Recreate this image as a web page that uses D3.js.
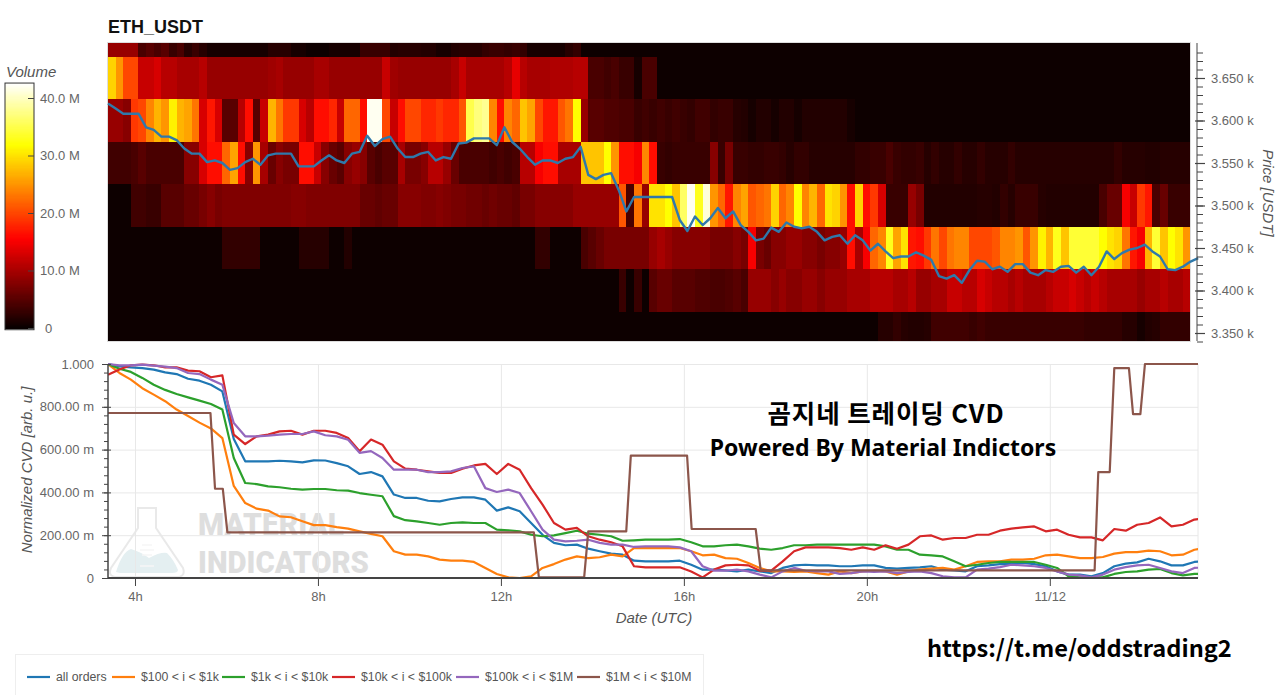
<!DOCTYPE html>
<html>

<head>
    <meta charset="utf-8">
    <title>ETH_USDT CVD</title>
    <script src="https://d3js.org/d3.v7.min.js" charset="utf-8"></script>
    <style>
        html,
        body {
            margin: 0;
            padding: 0;
            background: #fff;
        }

        svg {
            display: block;
        }

        text {
            font-family: "Liberation Sans", Arial, sans-serif;
        }

        .axis text {
            fill: #666;
            font-size: 13px;
        }

        .axis .domain,
        .axis line {
            stroke: #444;
        }

        .grid line {
            stroke: #e8e8e8;
        }

        .grid .domain {
            stroke: none;
        }

        .axis-label {
            fill: #555;
            font-size: 15px;
            font-style: italic;
        }

        .note {
            font-family: "Noto Sans CJK KR", sans-serif;
            font-weight: 700;
            fill: #000;
        }
    </style>
</head>

<body>
    <div id="chart"></div>
    <script>
        // volume per price row (millions), one value per 10 minute column
        const vol3700 = [
            9, 9, 9, 9, 4, 5, 4, 5, 3, 4,
            2, 3, 2, 1, 1, .6, .6, .6, .8, .6,
            .6, 2, 2, 2, 1, .6, .5, .5, .5, .6,
            .6, .6, 1, 3, 3, 3, 3, 1.5, 2, 2,
            2, 1.5, 1.5, 1, 1, 1.5, 2, 2, 2, 2.5,
            3, 3, 2.5, 3, 2.5, 1, 1, 1, 1, 1,
            2, 2.5, .3, .1, .1, .1, .1, .1, .1, .1,
            .1, .1, .1, .1, .1, .1, .1, .1, .1, .1,
            .1, .1, .1, .1, .1, .1, .1, .1, .1, .1,
            .1, .1, .1, .1, .1, .1, .1, .1, .1, .1,
            .1, .1, .1, .1, .1, .1, .1, .1, .1, .1,
            .1, .1, .1, .1, .1, .1, .1, .1, .1, .1,
            .1, .1, .1, .1, .1, .1, .1, .1, .1, .1,
            .1, .1, .1, .1, .1, .1, .1, .1, .1, .1,
            .1, .1
        ];
        const vol3650 = [
            29, 25, 20, 20, 12, 12, 13, 11, 11, 10,
            10, 10, 11, 9, 9, 9, 9, 9, 9, 9,
            9, 9.5, 10, 9, 9, 9, 9, 10, 10, 9,
            9, 9, 9, 9, 9, 9, 12, 9.5, 9, 9,
            9, 9, 9, 9, 9, 10, 12, 10, 10, 10,
            10, 10, 11, 14, 11, 10, 10, 10, 10.5, 10.5,
            10.5, 11, 11, 4, 4, 3.5, 4, 3, 3, .6,
            4, 4, .2, .1, .1, .1, .1, .1, .1, .1,
            .1, .1, .1, .1, .1, .1, .1, .1, .1, .1,
            .1, .1, .1, .1, .1, .1, .1, .1, .1, .1,
            .1, .1, .1, .1, .1, .1, .1, .1, .1, .1,
            .1, .1, .1, .1, .1, .1, .1, .1, .1, .1,
            .1, .1, .1, .1, .1, .1, .1, .1, .1, .1,
            .1, .1, .1, .1, .1, .1, .1, .1, .1, .1,
            .1, .1
        ];
        const vol3600 = [
            9, 9, 8, 19, 20, 24, 27, 25, 31, 27,
            26, 23, 13, 17, 13, 5, 5, 11, 16, 5,
            12, 27, 23, 19, 19, 13, 11, 16, 16, 18,
            12, 22, 22, 16, 42, 42, 20, 12, 16, 20,
            20, 18, 18, 19, 18, 18, 21, 35, 37, 38,
            24, 16, 24, 22, 28, 26, 20, 17, 17, 21,
            23, 32, 9, 5, 5, 4.5, 4.5, 4, 4, 3,
            3.5, 3, 3.5, 3, 3.5, 3, 2.5, 3.5, 3.5, 2.5,
            3, 3, 2, 1.5, 1, 1.5, 1.5, 1, 1.5, 1.5,
            1, 1.5, 1.5, 1.5, 1.5, 1.5, 1.5, 1, .5, .5,
            .5, .5, .4, .3, .1, .1, .1, .1, .1, .1,
            .1, .1, .1, .1, .1, .1, .1, .1, .1, .1,
            .1, .1, .1, .1, .1, .1, .1, .1, .1, .1,
            .1, .1, .1, .1, .1, .1, .1, .1, .1, .1,
            .1, .1
        ];
        const vol3550 = [
            3.5, 3.5, 3.5, 4, 5, 4, 4, 4, 4, 4,
            8, 8, 13, 16, 16, 22, 26, 16, 8, 25,
            10, 6, 8, 7, 7, 16.5, 16.5, 12, 8, 6,
            5, 8, 9, 8, 5, 4, 5, 5, 10, 7,
            7, 8, 11, 11, 9, 6, 4, 4, 4, 4,
            3.5, 4, 3.5, 4, 11, 11, 15, 16, 16, 10,
            10, 10, 28, 28, 28, 32, 25, 16, 16, 15,
            24, 16, 3, 2.5, 3, 3, 3, 3, 3, 8,
            3, 7, 3, 3, 2.5, 2.5, 3, 3, 2.5, 2,
            2.5, 2.5, 2, 2, 2, 2, 2, 2, 2.5, 2.5,
            3, 3, 4, 3, 2.5, 2.5, 3, 2, 2.5, 2,
            2, 2.5, 2, 2, 2.5, 2, 2, 2, 2.5, 2,
            2, 2, 2, 2, 2, 2, 2, 2, 2, 2,
            2, 2, 2.5, 2, 2, 2, 1.5, 1.5, 2, 2,
            2, 2
        ];
        const vol3500 = [
            .2, .2, .2, 3.5, 3.5, 3, 3, 5, 5, 5,
            6, 6, 7, 8, 7, 7.5, 7.5, 7.5, 7.5, 7.5,
            7.5, 7.5, 7.5, 7.5, 8, 8, 7.5, 7.5, 7.5, 7.5,
            7.5, 7.5, 7.5, 6, 6, 5.5, 6, 6, 8, 8,
            8, 7.5, 7.5, 8, 7.5, 7, 7, 6.5, 6.5, 6,
            6.5, 6, 6, 5.5, 7, 7, 8, 8, 8, 8,
            8, 9, 9, 9, 9, 9, 9, 21, 4, 23,
            9, 30, 30, 32, 28, 36, 42, 33, 41, 25,
            22, 17, 24, 26, 21, 22, 23, 29, 22, 24,
            32, 24, 27, 22, 30, 29, 25, 16, 29, 16,
            19, 13, 3, 3, 3, 9, 7, 1.5, 1.5, 1.5,
            1.5, 1.5, 1.5, 1.5, 2, 2, 1.5, 2.5, 2, 3,
            3, 3, 2, 1.5, 1.5, 1.5, 1.5, 1.5, 1.5, 1.5,
            4, 6, 6, 15, 12, 19, 17, 4, 6, 3,
            3, 3
        ];
        const vol3450 = [
            .1, .1, .1, .1, .1, .1, .1, .1, .1, .1,
            .1, .1, .1, .1, .1, 2.5, 2.5, 2.5, 2.5, 2.5,
            .1, .1, .1, .1, .1, 2, 2, 2, 2, .1,
            .1, 1.5, .1, .1, .1, .1, .1, .1, .1, .1,
            .1, .1, .1, .1, .1, .1, .1, .1, .1, .1,
            .1, .1, .1, .1, .1, .1, 2.5, 2.5, .1, .1,
            .1, .1, 4, 5, 6, 7, 7, 7, 7, 7,
            7, 9, 10, 9, 8, 8, 8, 8, 8, 7,
            7, 7, 8, 7, 15, 7, 6, 8, 8, 9,
            9, 8, 8, 7, 8, 8, 9, 16, 10, 15,
            22, 24, 33, 26, 30, 17, 16, 19, 23, 20,
            23, 24, 24, 20, 20, 20, 21, 24, 24, 25,
            21, 25, 31, 27, 33, 28, 34, 34, 34, 34,
            32, 30, 29, 23, 17, 15, 27, 34, 28, 32,
            30, 25
        ];
        const vol3400 = [
            .1, .1, .1, .1, .1, .1, .1, .1, .1, .1,
            .1, .1, .1, .1, .1, .1, .1, .1, .1, .1,
            .1, .1, .1, .1, .1, .1, .1, .1, .1, .1,
            .1, .1, .1, .1, .1, .1, .1, .1, .1, .1,
            .1, .1, .1, .1, .1, .1, .1, .1, .1, .1,
            .1, .1, .1, .1, .1, .1, .1, .1, .1, .1,
            .1, .1, .1, .1, .1, .1, .1, 3, .5, 3,
            .5, 5, 6, 6, 5, 5, 5, 4.5, 4.5, 4,
            4, 4.5, 5, 4, 9, 9, 9, 8, 9, 8,
            8, 9, 9, 8, 9, 9, 9, 10, 10, 10,
            11, 11, 11, 10, 10, 11, 9, 9, 10, 10,
            12, 12, 11, 11, 13, 12, 11, 11, 10, 11,
            10, 10, 10, 11, 12, 12, 13, 12, 11, 12,
            11, 10, 10, 10, 10, 9, 10, 10, 11, 10,
            10, 11
        ];
        const vol3350 = [
            .1, .1, .1, .1, .1, .1, .1, .1, .1, .1,
            .1, .1, .1, .1, .1, .1, .1, .1, .1, .1,
            .1, .1, .1, .1, .1, .1, .1, .1, .1, .1,
            .1, .1, .1, .1, .1, .1, .1, .1, .1, .1,
            .1, .1, .1, .1, .1, .1, .1, .1, .1, .1,
            .1, .1, .1, .1, .1, .1, .1, .1, .1, .1,
            .1, .1, .1, .1, .1, .1, .1, .1, .1, .1,
            .1, .1, .1, .1, .1, .1, .1, .1, .1, .1,
            .1, .1, .1, .1, .1, .1, .1, .1, .1, .1,
            .1, .1, .1, .1, .1, .1, .1, .1, .1, .1,
            .2, 2, 2, 2.5, 2, 1.5, 1.5, 2, 3.5, 3.5,
            3.5, 3.5, 3.5, 3, 3.5, 3, 3, 3, 3, 3,
            3, 3, 3, 3, 3, 3, 3, 3, 2.5, 2.5,
            2.5, 2.5, 2.5, 2, 2, 1, 1.5, 2, 2.5, 2.5,
            2.5, 2.5
        ];
        const volumeRows = [vol3700, vol3650, vol3600, vol3550, vol3500, vol3450, vol3400, vol3350];
        const rowPrices = [3700, 3650, 3600, 3550, 3500, 3450, 3400, 3350];

        // last price, every 10 minutes
        const price = [
            3620, 3614, 3608, 3608, 3608, 3592, 3589, 3581, 3581, 3577,
            3567, 3561, 3561, 3551, 3553, 3550, 3542, 3544, 3551, 3555,
            3548, 3559, 3561, 3561, 3561, 3546, 3546, 3546, 3553, 3559,
            3553, 3550, 3561, 3563, 3582, 3570, 3578, 3581, 3567, 3557,
            3557, 3561, 3563, 3553, 3557, 3555, 3573, 3574, 3579, 3579,
            3579, 3571, 3592, 3575, 3567, 3557, 3548, 3553, 3553, 3550,
            3555, 3557, 3569, 3536, 3531, 3536, 3538, 3518, 3493, 3510,
            3510, 3510, 3510, 3510, 3510, 3483, 3470, 3487, 3477, 3485,
            3497, 3485, 3493, 3477, 3469, 3459, 3461, 3474, 3469, 3480,
            3475, 3473, 3475, 3469, 3459, 3463, 3465, 3455, 3465, 3459,
            3447, 3455, 3446, 3438, 3440, 3440, 3445, 3441, 3436, 3417,
            3414, 3418, 3409, 3424, 3435, 3434, 3425, 3428, 3422, 3431,
            3431, 3421, 3418, 3424, 3422, 3428, 3429, 3421, 3428, 3418,
            3428, 3446, 3437, 3444, 3448, 3450, 3454, 3446, 3440, 3425,
            3424, 3428, 3434, 3438
        ];

        // normalized cvd per order size, every 15 minutes
        const cvdAll = [
            1, .989, .984, .981, .974, .961, .953, .931, .922, .903,
            .872, .65, .545, .545, .545, .548, .545, .54, .55, .549,
            .537, .522, .486, .495, .475, .39, .374, .374, .361, .358,
            .369, .377, .377, .366, .315, .33, .312, .257, .202, .164,
            .153, .156, .137, .125, .114, .109, .081, .078, .078, .078,
            .081, .062, .039, .039, .036, .031, .039, .031, .023, .047,
            .059, .062, .059, .059, .055, .055, .059, .059, .047, .044,
            .047, .05, .055, .039, .036, .031, .055, .059, .065, .065,
            .07, .065, .055, .031, .016, .016, .008, .023, .055, .067,
            .073, .09, .078, .059, .059, .075, .08
        ];
        const cvd100 = [
            1, .958, .927, .887, .857, .826, .787, .757, .726, .699,
            .654, .43, .35, .324, .315, .288, .284, .265, .247, .247,
            .238, .231, .218, .206, .195, .125, .109, .109, .101, .086,
            .081, .081, .075, .047, .019, .003, 0, .008, .047, .065,
            .086, .101, .093, .097, .109, .101, .14, .14, .14, .14,
            .14, .125, .106, .109, .093, .09, .07, .047, .031, .031,
            .028, .031, .023, .016, .031, .023, .031, .034, .031, .016,
            .031, .039, .044, .047, .039, .055, .075, .078, .078, .086,
            .086, .09, .106, .109, .101, .093, .093, .098, .114, .121,
            .121, .128, .125, .106, .109, .132, .14
        ];
        const cvd1k = [
            1, .978, .963, .935, .903, .879, .86, .844, .829, .813,
            .787, .561, .444, .439, .428, .424, .417, .413, .416, .416,
            .41, .408, .397, .389, .382, .289, .27, .265, .257, .249,
            .257, .26, .257, .257, .226, .223, .218, .202, .195, .199,
            .21, .221, .207, .202, .195, .174, .176, .179, .179, .179,
            .182, .167, .148, .148, .153, .156, .148, .137, .132, .14,
            .153, .153, .156, .156, .156, .156, .156, .156, .148, .132,
            .132, .109, .106, .101, .078, .055, .062, .07, .075, .075,
            .075, .075, .062, .047, .008, .003, .003, .003, .019, .028,
            .031, .039, .042, .023, .012, .019, .02
        ];
        const cvd10k = [
            .95, .974, .994, .997, .994, .984, .984, .969, .966, .938,
            .947, .67, .626, .662, .67, .685, .688, .67, .688, .688,
            .678, .654, .592, .647, .623, .545, .511, .506, .498, .491,
            .491, .511, .526, .533, .486, .533, .506, .42, .343, .257,
            .226, .234, .195, .179, .167, .148, .055, .05, .05, .05,
            .05, .03, .003, .039, .059, .062, .059, .034, .034, .078,
            .125, .143, .143, .143, .14, .132, .143, .132, .153, .137,
            .156, .195, .199, .179, .187, .187, .202, .202, .221, .231,
            .237, .241, .218, .226, .202, .19, .19, .176, .229, .221,
            .249, .257, .283, .241, .249, .273, .28
        ];
        const cvd100k = [
            1, .994, .994, .997, .992, .988, .981, .958, .953, .927,
            .903, .724, .662, .662, .665, .67, .673, .673, .685, .667,
            .662, .646, .585, .593, .561, .506, .506, .506, .495, .495,
            .498, .514, .522, .42, .402, .413, .397, .312, .226, .179,
            .171, .174, .179, .164, .156, .156, .145, .148, .148, .148,
            .143, .125, .055, .034, .034, .039, .031, .016, .003, .031,
            .047, .034, .031, .031, .019, .023, .031, .028, .031, .023,
            .028, .031, .023, .008, .003, .003, .039, .044, .051, .062,
            .059, .055, .047, .031, .016, .012, .003, .016, .039, .051,
            .059, .062, .047, .031, .023, .047, .05
        ];
        // the $1M bucket moves in steps, so it keeps its own time stamps
        const cvd1mHours = [
            3.41, 5.65, 5.75, 5.92, 6.02, 12.72, 12.83, 13.82, 13.91, 14.74,
            14.84, 16.07, 16.17, 17.57, 17.68, 24.98, 25.06, 25.31, 25.41, 25.73,
            25.82, 25.98, 26.08, 27.24
        ];
        const cvd1m = [
            .771, .771, .417, .417, .213, .213, .003, .003, .218, .218,
            .572, .572, .229, .229, .036, .036, .495, .495, .981, .981,
            .766, .766, 1, 1
        ];

        const seriesNames = ["all orders", "$100 < i < $1k", "$1k < i < $10k", "$10k < i < $100k", "$100k < i < $1M", "$1M < i < $10M"];
        const seriesColors = ["#1f77b4", "#ff7f0e", "#2ca02c", "#d62728", "#9467bd", "#8c564b"];

        const hourTicks = [4, 8, 12, 16, 20, 24];
        const hourLabels = ["4h", "8h", "12h", "16h", "20h", "11/12"];
        const cvdTicks = [0, .2, .4, .6, .8, 1];
        const cvdLabels = ["0", "200.00 m", "400.00 m", "600.00 m", "800.00 m", "1.000"];
        const priceTicks = [3350, 3400, 3450, 3500, 3550, 3600, 3650];
        const priceLabels = ["3.350 k", "3.400 k", "3.450 k", "3.500 k", "3.550 k", "3.600 k", "3.650 k"];
        const volumeTicks = [0, 10, 20, 30, 40];
        const volumeLabels = ["0", "10.0 M", "20.0 M", "30.0 M", "40.0 M"];

        const width = 1280;
        const height = 695;
        const startHour = 3.41;
        const endHour = 27.24;

        const svg = d3.select("#chart").append("svg")
            .attr("width", width)
            .attr("height", height);

        // same time scale for both panels
        const x = d3.scaleLinear().domain([startHour, endHour]).range([108, 1198]);
        const yPrice = d3.scaleLinear().domain([3350, 3650]).range([333, 78]);
        const yCvd = d3.scaleLinear().domain([0, 1]).range([578, 364]);
        const yVolume = d3.scaleLinear().domain([0, 40]).range([328, 98]);

        // matplotlib style "hot" colormap
        const hot = d3.scaleLinear()
            .domain([0, 15.5, 31.8, 42.6])
            .range(["#080000", "#ff0000", "#ffff00", "#ffffff"])
            .clamp(true);

        const defs = svg.append("defs");
        defs.append("clipPath").attr("id", "heat-clip")
            .append("rect").attr("x", 108).attr("y", 43).attr("width", 1082).attr("height", 298);
        defs.append("clipPath").attr("id", "cvd-clip")
            .append("rect").attr("x", 108).attr("y", 362).attr("width", 1090).attr("height", 218);
        // the reference image is a little soft between the columns
        defs.append("filter").attr("id", "soft")
            .attr("x", "-1%").attr("y", "-1%").attr("width", "102%").attr("height", "102%")
            .append("feGaussianBlur").attr("stdDeviation", 0.5);

        // ---- heatmap ----
        const heat = svg.append("g").attr("clip-path", "url(#heat-clip)")
            .append("g").attr("filter", "url(#soft)").attr("shape-rendering", "crispEdges");
        volumeRows.forEach(function (row, r) {
            heat.append("g").selectAll("rect")
                .data(row)
                .enter()
                .append("rect")
                .attr("x", (d, i) => x(startHour + i / 6))
                .attr("width", (d, i) => x(startHour + (i + 1) / 6) - x(startHour + i / 6) + 0.6)
                .attr("y", yPrice(rowPrices[r] + 25))
                .attr("height", yPrice(rowPrices[r] - 25) - yPrice(rowPrices[r] + 25) + 0.6)
                .attr("fill", d => hot(d));
        });
        svg.append("rect")
            .attr("x", 107.5).attr("y", 42.5).attr("width", 1083).attr("height", 299)
            .attr("fill", "none").attr("stroke", "#ddd");

        svg.append("path")
            .datum(price)
            .attr("fill", "none")
            .attr("stroke", "#2f79ab")
            .attr("stroke-width", 2.4)
            .attr("stroke-linejoin", "round")
            .attr("d", d3.line().x((d, i) => x(startHour + i / 6)).y(d => yPrice(d)));

        // price axis on the right, minor ticks every 10 USD
        const priceAxis = svg.append("g").attr("class", "axis")
            .attr("transform", "translate(1197,0)");
        priceAxis.append("g")
            .call(d3.axisRight(yPrice).tickValues(d3.range(3340, 3690, 10)).tickSize(6).tickFormat(""))
            .select(".domain").attr("d", "M0,43V341");
        priceAxis.append("g")
            .call(d3.axisRight(yPrice).tickValues(priceTicks).tickSize(8).tickPadding(6)
                .tickFormat((d, i) => priceLabels[i]))
            .call(g => g.select(".domain").remove())
            .call(g => g.selectAll("line").attr("x1", -2).attr("stroke-width", 1.2));

        svg.append("text").attr("class", "axis-label")
            .attr("transform", "translate(1263,193) rotate(90)")
            .attr("text-anchor", "middle")
            .text("Price [USDT]");

        svg.append("text")
            .attr("x", 108).attr("y", 33)
            .style("font-weight", "700").style("font-size", "18px").style("fill", "#111")
            .text("ETH_USDT");

        // ---- colour bar ----
        const barY = d3.range(0, 42.6, 0.2);
        svg.append("g").attr("shape-rendering", "crispEdges").selectAll("rect")
            .data(barY)
            .enter()
            .append("rect")
            .attr("x", 5).attr("width", 29)
            .attr("y", d => yVolume(d + 0.2))
            .attr("height", d => yVolume(d) - yVolume(d + 0.2) + 0.6)
            .attr("fill", d => hot(d));
        svg.append("rect")
            .attr("x", 5).attr("y", yVolume(42.6)).attr("width", 29).attr("height", yVolume(-0.3) - yVolume(42.6))
            .attr("fill", "none").attr("stroke", "#333");

        const barAxis = svg.append("g").attr("class", "axis")
            .attr("transform", "translate(34,0)")
            .call(d3.axisRight(yVolume).tickValues(volumeTicks).tickSize(0).tickPadding(6)
                .tickFormat((d, i) => volumeLabels[i]))
            .call(g => g.select(".domain").remove());
        barAxis.selectAll("line").attr("x1", -6).attr("x2", 0);
        barAxis.selectAll("text").filter(d => d === 0).attr("x", 11);

        svg.append("text").attr("class", "axis-label")
            .attr("x", 6).attr("y", 77)
            .text("Volume");

        // ---- watermark ----
        const mark = svg.append("g");
        mark.append("path")
            .attr("d", "M116,572 Q122,552 131,549 Q141,552 149,558 Q160,552 167,553 Q174,560 178,570 Q178,573 172,573 L120,573 Z")
            .attr("fill", "#e4eff1");
        mark.append("path")
            .attr("d", "M138,508 H156 V528 L183,568 Q186,577 176,577 H118 Q107,577 111,568 L138,528 Z")
            .attr("fill", "none").attr("stroke", "#e9e9e9").attr("stroke-width", 2);
        mark.append("path")
            .attr("d", "M142,545 H152 M140,550 H154 M142,555 H152 M140,566 H154")
            .attr("stroke", "#f6f6f6").attr("stroke-width", 1.5);
        mark.append("text").attr("x", 198).attr("y", 535)
            .attr("textLength", 146).attr("lengthAdjust", "spacingAndGlyphs")
            .style("font-family", "Roboto").style("font-weight", "900").style("font-size", "32px").style("fill", "#dedede")
            .text("MATERIAL");
        mark.append("text").attr("x", 198).attr("y", 573)
            .attr("textLength", 171).attr("lengthAdjust", "spacingAndGlyphs")
            .style("font-family", "Roboto").style("font-weight", "900").style("font-size", "32px").style("fill", "#dedede")
            .text("INDICATORS");

        // ---- cvd panel ----
        svg.append("g").attr("class", "grid")
            .attr("transform", "translate(0,578)")
            .call(d3.axisBottom(x).tickValues(hourTicks).tickSize(-214).tickFormat(""));
        svg.append("g").attr("class", "grid")
            .attr("transform", "translate(108,0)")
            .call(d3.axisLeft(yCvd).tickValues(cvdTicks).tickSize(-1090).tickFormat(""));
        svg.append("line")
            .attr("x1", 1198).attr("x2", 1198).attr("y1", 364).attr("y2", 578)
            .attr("stroke", "#e8e8e8");

        const cvdLine = d3.line()
            .x((d, i) => x(startHour + i * 0.25))
            .y(d => yCvd(d));
        const cvdPlot = svg.append("g").attr("clip-path", "url(#cvd-clip)")
            .attr("fill", "none").attr("stroke-width", 2.2).attr("stroke-linejoin", "round");
        [cvdAll, cvd100, cvd1k, cvd10k, cvd100k].forEach(function (values, i) {
            cvdPlot.append("path")
                .attr("stroke", seriesColors[i])
                .attr("d", cvdLine(values));
        });
        cvdPlot.append("path")
            .datum(d3.zip(cvd1mHours, cvd1m))
            .attr("stroke", seriesColors[5])
            .attr("d", d3.line().x(d => x(d[0])).y(d => yCvd(d[1])));

        // axes of the cvd panel
        const leftAxis = svg.append("g").attr("class", "axis")
            .attr("transform", "translate(108,0)");
        leftAxis.append("g")
            .call(d3.axisLeft(yCvd).tickValues(d3.range(0, 1.001, 0.04)).tickSize(4).tickFormat(""))
            .select(".domain").attr("d", "M0,364V578").attr("stroke-width", 1.5);
        leftAxis.append("g")
            .call(d3.axisLeft(yCvd).tickValues(cvdTicks).tickSize(6).tickPadding(8)
                .tickFormat((d, i) => cvdLabels[i]))
            .call(g => g.select(".domain").remove())
            .call(g => g.selectAll("line").attr("x1", 3));

        const bottomAxis = svg.append("g").attr("class", "axis")
            .attr("transform", "translate(0,578)")
            .call(d3.axisBottom(x).tickValues(hourTicks).tickSize(8).tickPadding(6)
                .tickFormat((d, i) => hourLabels[i]));
        bottomAxis.select(".domain").attr("d", "M108,0H1198").attr("stroke", "#555").attr("stroke-width", 2);

        svg.append("text").attr("class", "axis-label")
            .attr("transform", "translate(32,470) rotate(-90)")
            .attr("text-anchor", "middle")
            .text("Normalized CVD [arb. u.]");
        svg.append("text").attr("class", "axis-label")
            .attr("x", 654).attr("y", 623)
            .attr("text-anchor", "middle")
            .text("Date (UTC)");

        // notes on top of the chart
        svg.append("text").attr("class", "note")
            .attr("x", 886).attr("y", 423).attr("text-anchor", "middle")
            .style("font-size", "25.5px").style("letter-spacing", "0.9px")
            .text("곰지네 트레이딩 CVD");
        svg.append("text").attr("class", "note")
            .attr("x", 883).attr("y", 456).attr("text-anchor", "middle")
            .style("font-family", "'Noto Sans', sans-serif")
            .style("font-size", "23px")
            .text("Powered By Material Indictors");
        svg.append("text").attr("class", "note")
            .attr("x", 927).attr("y", 657)
            .style("font-size", "23.6px")
            .text("https://t.me/oddstrading2");

        // ---- legend ----
        const legend = svg.append("g");
        legend.append("rect")
            .attr("x", 15.5).attr("y", 654.5).attr("width", 688).attr("height", 50)
            .attr("fill", "#fff").attr("stroke", "#eee");
        const legendX = [27, 112, 222, 332, 456, 577];
        const items = legend.selectAll("g")
            .data(seriesNames)
            .enter()
            .append("g")
            .attr("transform", (d, i) => "translate(" + legendX[i] + ",677)");
        items.append("line")
            .attr("x2", 23)
            .attr("stroke", (d, i) => seriesColors[i])
            .attr("stroke-width", 2.2);
        items.append("text")
            .attr("x", 29).attr("dy", "0.32em")
            .style("font-size", "12.3px").style("fill", "#555")
            .text(d => d);
    </script>
</body>

</html>
